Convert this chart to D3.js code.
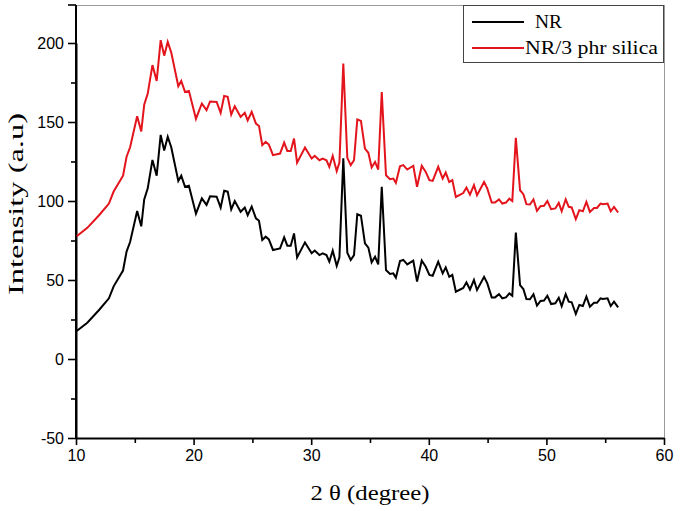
<!DOCTYPE html>
<html><head><meta charset="utf-8">
<script src="https://cdn.jsdelivr.net/npm/d3@7"></script>
<style>body{margin:0;background:#fff}svg{display:block}</style>
</head><body><svg id="c" width="680" height="511"></svg>
<script>
const twoTheta = [10.06,10.96,11.96,12.8,13.2,14.0,14.3,14.6,15.2,15.55,15.8,16.1,16.5,16.86,17.2,17.5,17.8,18.1,18.7,18.95,19.27,19.6,20.2,20.7,21.1,21.4,21.96,22.3,22.6,22.9,23.2,23.5,24.0,24.35,24.6,24.94,25.3,25.56,25.84,26.13,26.4,26.75,27.35,27.7,27.97,28.26,28.54,28.8,29.47,30.04,30.3,30.7,30.98,31.3,31.54,31.83,32.17,32.4,32.73,33.07,33.36,33.64,33.92,34.23,34.57,34.86,35.14,35.43,35.7,36.0,36.36,36.7,36.98,37.2,37.55,37.83,38.17,38.68,39.0,39.4,39.74,40.05,40.33,40.8,41.18,41.44,41.74,42.0,42.3,42.93,43.2,43.5,43.84,44.1,44.7,44.97,45.35,45.63,45.97,46.25,46.56,46.85,47.1,47.4,47.76,48.04,48.3,48.6,48.9,49.2,49.5,49.8,50.08,50.4,50.76,51.05,51.3,51.64,51.9,52.15,52.5,52.8,53.1,53.4,53.7,54.05,54.3,54.6,54.8,55.2,55.47,55.75,56.1];
const nrIntensity = [17.7,23,31,38.4,46,56,68,74,93.7,84,101,108,126,116,141.8,132,140.7,134,112.7,116,109,109.7,92,101.7,97.5,103,102.7,95.8,106.5,105.9,94.7,100,93.2,95.8,91,96.4,89,87.5,75.3,77.4,75.7,69,70,77,71.7,71.7,79.5,64.3,73.8,66.9,68.6,65.8,66.9,65.8,61.6,68.6,58.9,64.3,127,67.3,62.7,65.8,91.6,90.7,73.2,70.5,61.2,64.7,59.9,109,56.3,53.8,54.2,51.5,62,62.7,59.9,62.3,49,62.3,58.4,53.2,52.7,61.6,54.2,58,52,53.2,42.6,45,48.5,44,50,43.7,52,48,39,39,41,38.4,39,41.5,40,80,46.8,44.3,38,37.8,41,33.8,36.7,37,40,34.8,35.3,38.8,33.5,41,36.3,35.9,28.5,34.2,33.5,39.4,33.1,35.6,35.6,38.4,38,38.4,33.5,36.3,32.7];
const silicaIntensity = [77.7,83,91,98.4,106,116,128,134,153.7,144,161,168,186,176,201.8,192,200.7,194,172.7,176,169,169.7,152,161.7,157.5,163,162.7,155.8,166.5,165.9,154.7,160,153.2,155.8,151,156.4,149,147.5,135.3,137.4,135.7,129,130,137,131.7,131.7,139.5,124.3,133.8,126.9,128.6,125.8,126.9,125.8,121.6,128.6,118.9,124.3,187,127.3,122.7,125.8,151.6,150.7,133.2,130.5,121.2,124.7,119.9,169,116.3,113.8,114.2,111.5,122,122.7,119.9,122.3,109,122.3,118.4,113.2,112.7,121.6,114.2,118,112,113.2,102.6,105,108.5,104,110,103.7,112,108,99,99,101,98.4,99,101.5,100,140,106.8,104.3,98,97.8,101,93.8,96.7,97,100,94.8,95.3,98.8,93.5,101,96.3,95.9,88.5,94.2,93.5,99.4,93.1,95.6,95.6,98.4,98,98.4,93.5,96.3,92.7];
const xTicks = [10,20,30,40,50,60];
const xMinor = [15,25,35,45,55];
const yTicks = [-50,0,50,100,150,200];
const yMinor = [-25,25,75,125,175];
const seriesNames = ["NR","NR/3 phr silica"];
const seriesColors = ["#000000","#e3141b"];

const svg = d3.select("#c");
const L=76, R=664, T=5, B=438;
const x = d3.scaleLinear().domain([10,60]).range([L,R]);
const y = d3.scaleLinear().domain([-50,200]).range([B,43]);

svg.append("line").attr("x1",L).attr("x2",R).attr("y1",T+0.5).attr("y2",T+0.5).attr("stroke","#9a9a9a").attr("stroke-width",1);
svg.append("line").attr("x1",R+0.5).attr("x2",R+0.5).attr("y1",T).attr("y2",B).attr("stroke","#9a9a9a").attr("stroke-width",1);

const tickFont = "'Liberation Sans', Arial, sans-serif";
const fmt = d => String(d);
const xg = svg.append("g").attr("transform",`translate(0,${B})`)
  .call(d3.axisBottom(x).tickValues(xTicks).tickSize(7).tickSizeOuter(0).tickPadding(5).tickFormat(fmt));
xg.append("g").call(d3.axisBottom(x).tickValues(xMinor).tickSize(5).tickSizeOuter(0).tickFormat(""))
  .select(".domain").remove();
const yg = svg.append("g").attr("transform",`translate(${L},0)`)
  .call(d3.axisLeft(y).tickValues(yTicks).tickSize(8).tickSizeOuter(0).tickPadding(4).tickFormat(fmt));
yg.append("g").call(d3.axisLeft(y).tickValues(yMinor).tickSize(5).tickSizeOuter(0).tickFormat(""))
  .select(".domain").remove();
svg.append("line").attr("x1",L).attr("x2",L).attr("y1",T).attr("y2",B).attr("stroke","#000").attr("stroke-width",2);
[xg,yg].forEach(g=>{
  g.selectAll(".domain").attr("stroke","#000").attr("stroke-width",2);
  g.selectAll(".tick line").attr("stroke","#000").attr("stroke-width",1.6);
  g.selectAll("text").attr("font-family",tickFont).attr("font-size",16).attr("fill","#000");
});
svg.append("line").attr("x1",L-8).attr("x2",L).attr("y1",T).attr("y2",T).attr("stroke","#000").attr("stroke-width",1.6);

const line = d3.line().x((d,i)=>x(twoTheta[i])).y(d=>y(d));
[nrIntensity, silicaIntensity].forEach((arr,k)=>{
  svg.append("path").datum(arr).attr("d",line).attr("fill","none")
    .attr("stroke",seriesColors[k]).attr("stroke-width",2).attr("stroke-linejoin","miter");
});

const serif = "'Liberation Serif', 'DejaVu Serif', serif";
svg.append("text").attr("x",370).attr("y",500).attr("text-anchor","middle")
  .attr("font-family",serif).attr("font-size",22)
  .attr("textLength",119).attr("lengthAdjust","spacingAndGlyphs").text("2 θ (degree)");
svg.append("text").attr("transform","translate(23,204) rotate(-90)").attr("text-anchor","middle")
  .attr("font-family",serif).attr("font-size",22)
  .attr("textLength",182).attr("lengthAdjust","spacingAndGlyphs").text("Intensity (a.u)");

const lg = svg.append("g");
lg.append("rect").attr("x",463.5).attr("y",5.5).attr("width",200).attr("height",57)
  .attr("fill","#fff").attr("stroke","#444").attr("stroke-width",1);
const legY=[22,48], legTx=[535,525], legW=[27,133];
seriesNames.forEach((n,i)=>{
  lg.append("line").attr("x1",472).attr("x2",524).attr("y1",legY[i]).attr("y2",legY[i])
    .attr("stroke",seriesColors[i]).attr("stroke-width",2);
  lg.append("text").attr("x",legTx[i]).attr("y",legY[i]+6).attr("font-family",serif)
    .attr("font-size",19).attr("textLength",legW[i]).attr("lengthAdjust","spacingAndGlyphs").text(n);
});
</script></body></html>
